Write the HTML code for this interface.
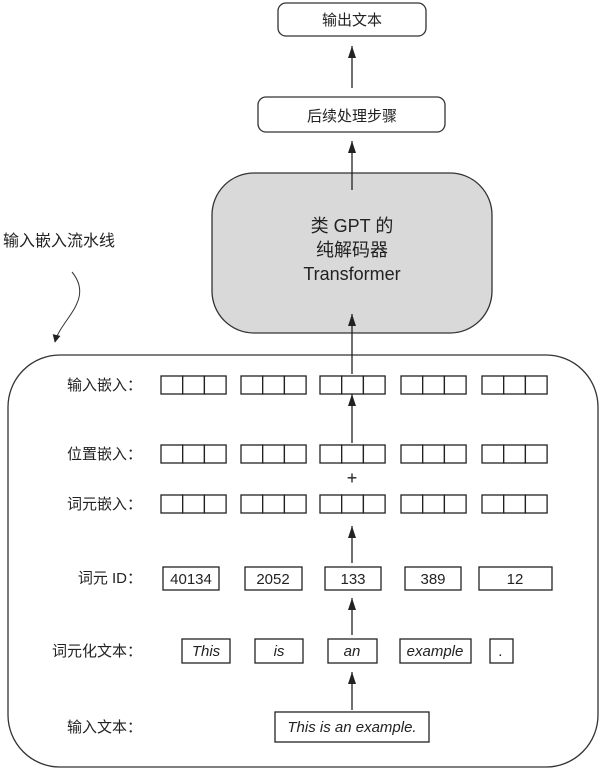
<!DOCTYPE html>
<html><head><meta charset="utf-8"><style>
body{margin:0;background:#fff;}
svg text{font-family:"Liberation Sans","Noto Sans CJK SC",sans-serif;fill:#222;}
</style></head><body>
<svg width="605" height="771" viewBox="0 0 605 771" xmlns="http://www.w3.org/2000/svg">
<defs>
<marker id="a" viewBox="0 0 12 8" refX="12" refY="4" markerWidth="12" markerHeight="8" orient="auto" markerUnits="userSpaceOnUse"><path d="M0,0 L12,4 L0,8 Z" fill="#222"/></marker>
<marker id="b" viewBox="0 0 10 10" refX="9" refY="5" markerWidth="8" markerHeight="8" orient="auto" markerUnits="userSpaceOnUse"><path d="M0,0 L10,5 L0,10 Z" fill="#222"/></marker>
<g id="row">
<rect x="161" y="0" width="21.7" height="18"/><rect x="182.7" y="0" width="21.7" height="18"/><rect x="204.4" y="0" width="21.7" height="18"/>
<rect x="241" y="0" width="21.7" height="18"/><rect x="262.7" y="0" width="21.7" height="18"/><rect x="284.4" y="0" width="21.7" height="18"/>
<rect x="320" y="0" width="21.7" height="18"/><rect x="341.7" y="0" width="21.7" height="18"/><rect x="363.4" y="0" width="21.7" height="18"/>
<rect x="401" y="0" width="21.7" height="18"/><rect x="422.7" y="0" width="21.7" height="18"/><rect x="444.4" y="0" width="21.7" height="18"/>
<rect x="482" y="0" width="21.7" height="18"/><rect x="503.7" y="0" width="21.7" height="18"/><rect x="525.4" y="0" width="21.7" height="18"/>
</g>
</defs>
<g stroke="#333" stroke-width="1.3" fill="none">
<rect x="278" y="3" width="148" height="33" rx="8" fill="#fff"/>
<rect x="258" y="97" width="187" height="35" rx="8" fill="#fff"/>
<rect x="212" y="173" width="280" height="160" rx="42" fill="#d9d9d9"/>
<rect x="8" y="355" width="590" height="412" rx="52"/>
</g>
<g font-size="15" text-anchor="middle">
<text x="352" y="25">输出文本</text>
<text x="352" y="121">后续处理步骤</text>
<text x="352" y="232" font-size="18">类 GPT 的</text>
<text x="352" y="256" font-size="18">纯解码器</text>
<text x="352" y="280" font-size="18">Transformer</text>
</g>
<text x="3" y="246" font-size="16">输入嵌入流水线</text>
<path d="M72,272 C95,300 60,320 55,342" stroke="#333" stroke-width="1" fill="none" marker-end="url(#b)"/>
<g stroke="#222" stroke-width="1.3" marker-end="url(#a)">
<line x1="352" y1="88" x2="352" y2="46"/>
<line x1="352" y1="190" x2="352" y2="141"/>
<line x1="352" y1="374" x2="352" y2="314"/>
<line x1="352" y1="443" x2="352" y2="394"/>
<line x1="352" y1="563" x2="352" y2="526"/>
<line x1="352" y1="635" x2="352" y2="598"/>
<line x1="352" y1="710" x2="352" y2="672"/>
</g>
<g font-size="15" text-anchor="end">
<text x="142" y="390">输入嵌入：</text>
<text x="142" y="459">位置嵌入：</text>
<text x="142" y="509">词元嵌入：</text>
<text x="142" y="583">词元 ID：</text>
<text x="142" y="656">词元化文本：</text>
<text x="142" y="732">输入文本：</text>
</g>
<g stroke="#222" stroke-width="1.3" fill="#fff">
<use href="#row" transform="translate(0,376)"/>
<use href="#row" transform="translate(0,445)"/>
<use href="#row" transform="translate(0,495)"/>
<rect x="163" y="567" width="56" height="23"/>
<rect x="245" y="567" width="57" height="23"/>
<rect x="325" y="567" width="56" height="23"/>
<rect x="405" y="567" width="56" height="23"/>
<rect x="479" y="567" width="73" height="23"/>
<rect x="182" y="639" width="48" height="24"/>
<rect x="255" y="639" width="48" height="24"/>
<rect x="328" y="639" width="49" height="24"/>
<rect x="400" y="639" width="71" height="24"/>
<rect x="490" y="639" width="23" height="24"/>
<rect x="275" y="712" width="154" height="30"/>
</g>
<text x="352" y="484" font-size="18" text-anchor="middle">+</text>
<g font-size="15" text-anchor="middle">
<text x="191" y="584">40134</text>
<text x="273" y="584">2052</text>
<text x="353" y="584">133</text>
<text x="433" y="584">389</text>
<text x="515" y="584">12</text>
</g>
<g font-size="15" text-anchor="middle" font-style="italic">
<text x="206" y="656">This</text>
<text x="279" y="656">is</text>
<text x="352" y="656">an</text>
<text x="435" y="656">example</text>
<text x="501" y="656">.</text>
<text x="352" y="732">This is an example.</text>
</g>
</svg>
</body></html>
